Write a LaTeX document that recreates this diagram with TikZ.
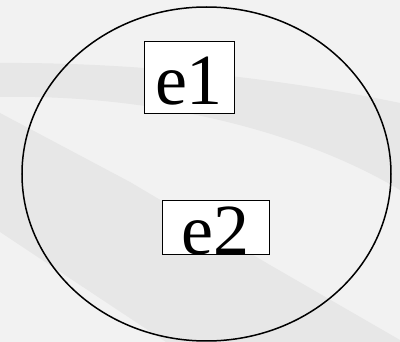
\documentclass[tikz,border=0pt]{standalone}
\usepackage{fontspec}
\setmainfont{Liberation Serif}
\newfontfamily\romana{Liberation Serif}
\usepackage{tikz}

\definecolor{fondo}{HTML}{F2F2F2}
\definecolor{banda}{HTML}{E7E7E7}

\begin{document}
\begin{tikzpicture}[x=1pt, y=-1pt,
    conjunto/.style={draw, line width=1.5pt},
    elem/.style={draw, fill=white, line width=1pt, inner sep=0pt, text height=54pt, text depth=0pt, font=\romana\fontsize{72}{72}\selectfont}
]
\useasboundingbox (0,0) rectangle (400,342);

% --- Fondo con bandas ---
\fill[fondo] (0,0) rectangle (400,342);
\fill[banda] (0,63) .. controls (150,62) and (300,82) .. (400,103)
    -- (400,190) .. controls (300,130) and (150,94) .. (0,97) -- cycle;
\fill[banda] (0,113) -- (130,182) -- (270,265) -- (400,340) -- (400,342)
    -- (166,342) -- (0,232) -- cycle;

% --- Conjunto ---
\draw[conjunto] (206.5,174) ellipse [x radius=184.5, y radius=167];

% --- Elementos ---
\node[elem, minimum width=90pt, minimum height=72pt] (e1) at (189,78) {e1};
\node[elem, minimum width=107pt, minimum height=54pt] (e2) at (215.5,228) {e2};

\end{tikzpicture}
\end{document}
